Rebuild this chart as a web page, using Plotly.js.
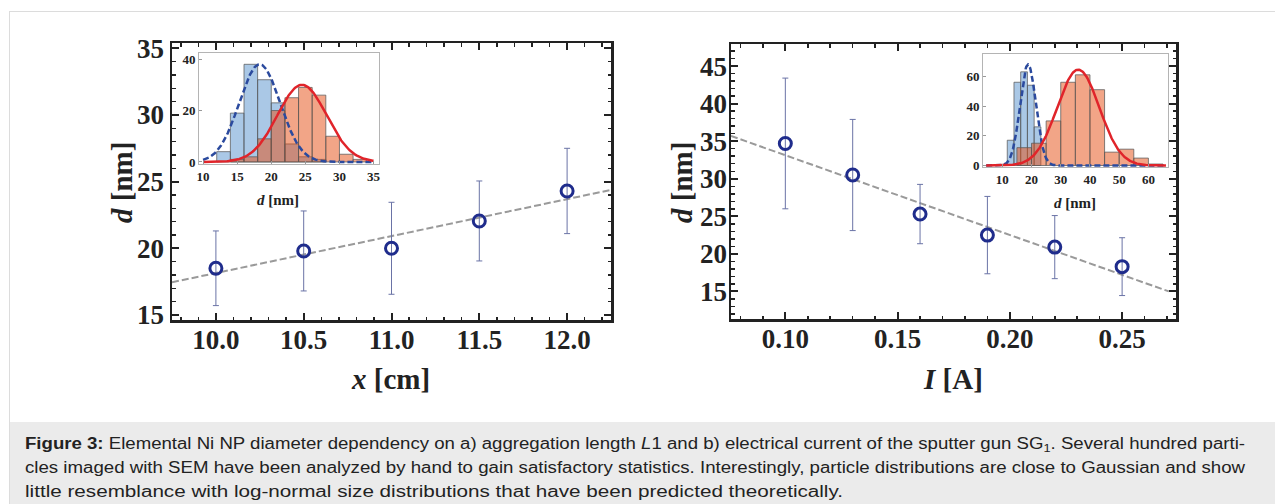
<!DOCTYPE html>
<html>
<head>
<meta charset="utf-8">
<script src="https://cdn.plot.ly/plotly-3.0.1.min.js"></script>
<style>
html,body{margin:0;padding:0;background:#fff;}
body{width:1275px;height:504px;position:relative;overflow:hidden;}
#frame{position:absolute;left:9px;top:11px;width:1266px;height:493px;border-left:1px solid #dcdcdc;border-top:1px solid #dcdcdc;box-sizing:border-box;}
#plot{position:absolute;left:0;top:0;width:1275px;height:422px;}
#caption{position:absolute;left:10px;top:422px;width:1265px;height:82px;background:#ebebeb;}
.cl{position:absolute;left:15px;display:inline-block;white-space:nowrap;font-family:"Liberation Sans",Arial,sans-serif;font-size:16px;color:#222;transform-origin:0 50%;line-height:20px;}
sub{font-size:11px;vertical-align:-3px;line-height:0;}
</style>
</head>
<body>
<div id="frame"></div>
<div id="caption">
  <div class="cl" id="l1" style="top:12px"><b>Figure 3:</b> Elemental Ni NP diameter dependency on a) aggregation length <i>L</i>1 and b) electrical current of the sputter gun SG<sub>1</sub>. Several hundred parti-</div>
  <div class="cl" id="l2" style="top:36px">cles imaged with SEM have been analyzed by hand to gain satisfactory statistics. Interestingly, particle distributions are close to Gaussian and show</div>
  <div class="cl" id="l3" style="top:60px">little resemblance with log-normal size distributions that have been predicted theoretically.</div>
</div>
<div id="plot"></div>
<script>
// ---------------- data ----------------
// panel a) diameter vs aggregation length
const lengthX = [10.0, 10.5, 11.0, 11.5, 12.0];
const lengthD = [18.5, 19.8, 20.0, 22.05, 24.3];
const lengthErr = [2.8, 3.0, 3.45, 3.0, 3.2];
const lengthFitX = [9.75, 12.25];
const lengthFitD = [17.45, 24.38];
// panel b) diameter vs current
const currentI = [0.10, 0.13, 0.16, 0.19, 0.22, 0.25];
const currentD = [34.7, 30.5, 25.3, 22.5, 20.9, 18.3];
const currentErr = [8.7, 7.4, 3.95, 5.15, 4.2, 3.85];
const currentFitI = [0.0758, 0.2708];
const currentFitD = [35.7, 15.0];
// inset a) histograms
const insetA_blueEdges = [12, 14, 16, 18, 20, 22, 24, 26, 28];
const insetA_blueCounts = [4, 19, 38, 32, 23, 7, 2, 1];
const insetA_redEdges = [14, 16, 18, 20, 22, 24, 26, 28, 30, 32, 34];
const insetA_redCounts = [1, 2, 9, 20, 25, 29, 26, 10, 3, 1];
const insetA_blueFit = [38, 18.3, 3.0];   // amplitude, mean, sigma
const insetA_redFit = [30, 24.5, 3.6];
// inset b) histograms
const insetB_blueEdges = [11.7, 14.0, 16.3, 18.6, 20.9, 23.2];
const insetB_blueCounts = [17, 56, 63, 54, 26];
const insetB_redEdges = [15, 20, 25, 30, 35, 40, 45, 50, 55, 60, 65];
const insetB_redCounts = [12, 15, 30, 56, 61, 51, 9, 11, 5, 1];
const insetB_blueFit = [68, 18.8, 2.7];
const insetB_redFit = [64.5, 36.0, 7.2];
// titles
const insetTitle = '<b><i>d</i> [nm]</b>';
const yTitle = '<b><i>d</i> [nm]</b>';
const xTitleA = '<b><i>x</i> [cm]</b>';
const xTitleB = '<b><i>I</i> [A]</b>';

// ---------------- layout helpers ----------------
const W = 1275, H = 422;
const fx = p => p / W, fy = p => 1 - p / H;
const centers = e => e.slice(0, -1).map((v, i) => (v + e[i + 1]) / 2);
const widths = e => e.slice(0, -1).map((v, i) => e[i + 1] - v);
function gauss(p, lo, hi, n) {
  const xs = [], ys = [];
  for (let i = 0; i <= n; i++) { const x = lo + (hi - lo) * i / n; xs.push(x); ys.push(p[0] * Math.exp(-Math.pow(x - p[1], 2) / (2 * p[2] * p[2]))); }
  return [xs, ys];
}
const SERIF = '"Liberation Serif","Times New Roman",serif';
const INK = '#222222';
const markerBlue = '#1f2c8c';
const errColor = '#6a73a6';
const blueFill = 'rgba(85,145,205,0.5)';
const redFill = 'rgba(229,75,15,0.5)';
const edge = 'rgba(90,90,90,0.75)';

function mainAxis(dom, range, dtick, minor, fmt, anchor) {
  return {
    domain: dom, range: range, anchor: anchor, dtick: dtick, tick0: 0, tickformat: fmt,
    showline: true, linecolor: INK, linewidth: 2.5, mirror: 'allticks',
    ticks: 'inside', ticklen: 7, tickwidth: 2, tickcolor: INK,
    minor: {dtick: minor, ticks: 'inside', ticklen: 3.5, tickwidth: 1.5, tickcolor: INK, showgrid: false},
    showgrid: false, zeroline: false,
    tickfont: {family: SERIF, size: 27, color: INK, weight: 'bold'}
  };
}
function insetAxis(dom, range, dtick, anchor) {
  return {
    domain: dom, range: range, anchor: anchor, dtick: dtick, tick0: 0,
    showline: true, linecolor: '#b4b4b4', linewidth: 1, mirror: true,
    ticks: 'inside', ticklen: 3, tickwidth: 1, tickcolor: '#999',
    showgrid: false, zeroline: false,
    tickfont: {family: SERIF, size: 13, color: INK, weight: 'bold'}
  };
}

const traces = [];
// panel a
traces.push({x: lengthFitX, y: lengthFitD, xaxis: 'x', yaxis: 'y', mode: 'lines', line: {color: '#9a9a9a', width: 2, dash: '7px,3px'}, hoverinfo: 'skip'});
traces.push({x: lengthX, y: lengthD, xaxis: 'x', yaxis: 'y', mode: 'markers',
  error_y: {type: 'data', array: lengthErr, color: errColor, thickness: 1, width: 3},
  marker: {symbol: 'circle-open', size: 12, color: markerBlue, line: {width: 3, color: markerBlue}}});
// panel b
traces.push({x: currentFitI, y: currentFitD, xaxis: 'x2', yaxis: 'y2', mode: 'lines', line: {color: '#9a9a9a', width: 2, dash: '7px,3px'}, hoverinfo: 'skip'});
traces.push({x: currentI, y: currentD, xaxis: 'x2', yaxis: 'y2', mode: 'markers',
  error_y: {type: 'data', array: currentErr, color: errColor, thickness: 1, width: 3},
  marker: {symbol: 'circle-open', size: 12, color: markerBlue, line: {width: 3, color: markerBlue}}});
// inset a
traces.push({type: 'bar', x: centers(insetA_blueEdges), y: insetA_blueCounts, width: widths(insetA_blueEdges), xaxis: 'x3', yaxis: 'y3', marker: {color: blueFill, line: {color: edge, width: 1}}});
traces.push({type: 'bar', x: centers(insetA_redEdges), y: insetA_redCounts, width: widths(insetA_redEdges), xaxis: 'x3', yaxis: 'y3', marker: {color: redFill, line: {color: edge, width: 1}}});
let g = gauss(insetA_blueFit, 10, 35, 200);
traces.push({x: g[0], y: g[1], xaxis: 'x3', yaxis: 'y3', mode: 'lines', line: {color: '#2b4a9e', width: 2.5, dash: '6px,3px'}});
g = gauss(insetA_redFit, 10, 35, 200);
traces.push({x: g[0], y: g[1], xaxis: 'x3', yaxis: 'y3', mode: 'lines', line: {color: '#e0242a', width: 2.5}});
// inset b
traces.push({type: 'bar', x: centers(insetB_blueEdges), y: insetB_blueCounts, width: widths(insetB_blueEdges), xaxis: 'x4', yaxis: 'y4', marker: {color: blueFill, line: {color: edge, width: 1}}});
traces.push({type: 'bar', x: centers(insetB_redEdges), y: insetB_redCounts, width: widths(insetB_redEdges), xaxis: 'x4', yaxis: 'y4', marker: {color: redFill, line: {color: edge, width: 1}}});
g = gauss(insetB_blueFit, 4.5, 66, 300);
traces.push({x: g[0], y: g[1], xaxis: 'x4', yaxis: 'y4', mode: 'lines', line: {color: '#2b4a9e', width: 2.5, dash: '6px,3px'}});
g = gauss(insetB_redFit, 4.5, 66, 300);
traces.push({x: g[0], y: g[1], xaxis: 'x4', yaxis: 'y4', mode: 'lines', line: {color: '#e0242a', width: 2.5}});

const ann = (x, y, text, size, angle) => ({xref: 'paper', yref: 'paper', x: fx(x), y: fy(y), text: text, showarrow: false, xanchor: 'center', yanchor: 'middle', textangle: angle || 0, font: {family: SERIF, size: size, color: INK}});

const layout = {
  width: W, height: H, margin: {l: 0, r: 0, t: 0, b: 0},
  paper_bgcolor: 'rgba(0,0,0,0)', plot_bgcolor: 'rgba(0,0,0,0)',
  showlegend: false, barmode: 'overlay', bargap: 0,
  xaxis: mainAxis([fx(172), fx(611)], [9.75, 12.25], 0.5, 0.1, '.1f', 'y'),
  yaxis: mainAxis([fy(320), fy(43)], [14.62, 35.4], 5, 1, '', 'x'),
  xaxis2: mainAxis([fx(731), fx(1176)], [0.0758, 0.274], 0.05, 0.01, '.2f', 'y2'),
  yaxis2: mainAxis([fy(319), fy(44)], [11.33, 47.94], 5, 1, '', 'x2'),
  xaxis3: insetAxis([fx(199), fx(379)], [9.4, 35.8], 5, 'y3'),
  yaxis3: insetAxis([fy(164), fy(53)], [-0.8, 42.4], 20, 'x3'),
  xaxis4: insetAxis([fx(983), fx(1168)], [3.4, 66.7], 10, 'y4'),
  yaxis4: insetAxis([fy(167), fy(54)], [-1, 75], 20, 'x4'),
  annotations: [
    ann(122, 183, yTitle, 29, -90),
    ann(390, 379, xTitleA, 29),
    ann(682, 183, yTitle, 29, -90),
    ann(953, 379, xTitleB, 29),
    ann(278, 200, insetTitle, 15),
    ann(1075, 203, insetTitle, 15)
  ]
};
Plotly.newPlot('plot', traces, layout, {staticPlot: true, displayModeBar: false}).then(function () {
  // nudge main-axis tick labels closer to the frame, as in the reference
  document.querySelectorAll('.xtick text, .x2tick text').forEach(t => t.setAttribute('transform', (t.getAttribute('transform') || '') + ' translate(0,-6)'));
  document.querySelectorAll('.y2tick text').forEach(t => t.setAttribute('transform', (t.getAttribute('transform') || '') + ' translate(4,0)'));
});

// caption: each line stretched horizontally to the extent it has in the reference
function fitCaption() {
  [['l1', 1220], ['l2', 1220], ['l3', 818]].forEach(([id, target]) => {
    const el = document.getElementById(id);
    const w = el.getBoundingClientRect().width;
    el.style.transform = 'scaleX(' + (target / w) + ')';
  });
}
if (document.fonts && document.fonts.ready) document.fonts.ready.then(fitCaption); else fitCaption();
</script>
</body>
</html>
